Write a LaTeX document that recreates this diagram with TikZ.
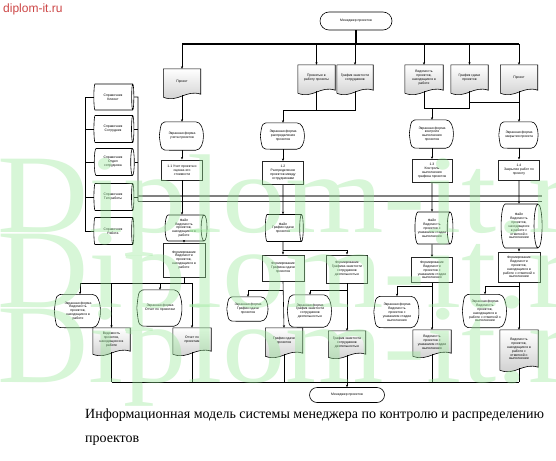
\documentclass[tikz,border=0pt]{standalone}
\usepackage{fontspec}
\setmainfont{Liberation Serif}
\setsansfont{Liberation Sans}
\usetikzlibrary{shapes.geometric,arrows.meta,calc}
\definecolor{wmgreen}{RGB}{150,232,150}
\definecolor{wmred}{RGB}{205,70,70}
\newcommand{\nf}{\fontsize{3.4}{3.9}\selectfont\sffamily}
\pgfdeclarelayer{back}
\pgfdeclarelayer{bg}
\pgfdeclarelayer{wmark}
\pgfsetlayers{back,bg,main,wmark}
\tikzset{
 lbl/.style={font=\nf, align=center, inner sep=0.5pt},
 term/.style={lbl, draw, fill=white, line width=0.6pt},
 proc/.style={lbl, draw=black!85, line width=0.9pt, fill=white},
 dbs/.style={lbl, draw, cylinder, shape aspect=0.3, fill=white, line width=0.6pt},
 docfill/.style={draw, line width=0.6pt, top color=white, bottom color=black!20},
 dispfill/.style={draw, line width=0.6pt, fill=white},
 wire/.style={line width=0.6pt},
 arr/.style={wire, -{Stealth[length=2.6pt,width=2.2pt]}},
 bus/.style={line width=1.1pt},
 wmtext/.style={anchor=base west, inner sep=0pt, text=wmgreen, text opacity=0.38, xscale=1.13, font=\fontsize{112}{112}\selectfont},
}
\newcommand{\docn}[6]{%
 \node[lbl, minimum width=#4pt, minimum height=#5pt] (#1) at (#2,#3) {#6};
 \begin{pgfonlayer}{bg}
 \path[docfill] (#1.north west) -- (#1.north east) -- ($(#1.south east)+(0,-1)$)
   .. controls ($(#1.south east)+(-0.4*#4,-6)$) and ($(#1.south west)+(0.4*#4,8)$) .. ($(#1.south west)+(0,2)$) -- cycle;
 \end{pgfonlayer}}
\newcommand{\dispn}[6]{%
 \node[lbl, minimum width=#4pt, minimum height=#5pt] (#1) at (#2,#3) {#6};
 \begin{pgfonlayer}{bg}
 \path[dispfill] ($(#1.north west)+(0.22*#4,0)$) -- ($(#1.north east)+(-0.2*#4,0)$)
   .. controls ($(#1.north east)+(0.03*#4,0)$) and ($(#1.south east)+(0.03*#4,0)$) .. ($(#1.south east)+(-0.2*#4,0)$)
   -- ($(#1.south west)+(0.22*#4,0)$)
   .. controls ($(#1.south west)+(0.04*#4,0)$) .. (#1.west)
   .. controls ($(#1.north west)+(0.04*#4,0)$) .. ($(#1.north west)+(0.22*#4,0)$) -- cycle;
 \end{pgfonlayer}}
\begin{document}
\begin{tikzpicture}[x=1pt,y=-1pt]
\begin{pgfonlayer}{back}
\fill[white] (0,0) rectangle (556,460);
\end{pgfonlayer}
\useasboundingbox (0,0) rectangle (556,460);

% ---- terminators
\node[term, minimum width=72pt, minimum height=18pt, rounded corners=9pt] (t1) at (356,21) {Менеджер проектов};
\node[term, minimum width=75pt, minimum height=15pt, rounded corners=7.5pt] (t2) at (347,395) {Менеджер проектов};

% ---- top documents
\docn{d1}{182}{82}{37}{26}{Проект}
\docn{d2}{316.5}{78}{37}{26}{Принятые в\\работу проекты}
\docn{d3}{355}{78}{36}{26}{График занятости\\сотрудников}
\docn{d4}{424}{78}{38}{26}{Ведомость\\проектов,\\находящихся в\\работе}
\docn{d5}{469.5}{78}{37}{26}{График сдачи\\проектов}
\docn{d6}{519}{78}{37}{26}{Проект}

% ---- screen forms (upper)
\dispn{disp1}{182}{136}{45}{28}{Экранная форма\\учета проектов}
\dispn{disp2}{283}{136}{45}{26}{Экранная форма\\распределения\\проектов}
\dispn{disp3}{432}{134}{45}{28}{Экранная форма\\контроля\\выполнения\\проектов}
\dispn{disp4}{519}{135}{40}{26}{Экранная форма\\закрытия проекта}

% ---- processes
\node[proc, minimum width=41pt, minimum height=20pt] (p1) at (182,170) {1.1 Учет проекта и\\оценка его\\стоимости};
\node[proc, minimum width=41pt, minimum height=23pt] (p2) at (283,173) {1.2\\Распределение\\проектов между\\сотрудниками};
\node[proc, minimum width=40pt, minimum height=23pt] (p3) at (432,171) {1.3\\Контроль\\выполнения\\графика проектов};
\node[proc, minimum width=41pt, minimum height=20pt] (p4) at (519,170) {1.4\\Закрытие работ по\\проекту};

% ---- reference books (cylinder: minimum height = length along axis)
\node[dbs, minimum height=40pt, minimum width=26pt] (s1) at (113,97) {Справочник\\Клиент};
\node[dbs, minimum height=40pt, minimum width=27pt] (s2) at (113,129) {Справочник\\Сотрудник};
\node[dbs, minimum height=40pt, minimum width=27pt] (s3) at (113,162) {Справочник\\Отдел\\сотрудника};
\node[dbs, minimum height=40pt, minimum width=27pt] (s4) at (113,197) {Справочник\\Тип работы};
\node[dbs, minimum height=40pt, minimum width=27pt] (s5) at (113,231) {Справочник\\Работа};

% ---- files
\node[dbs, minimum height=42pt, minimum width=26pt] (f1) at (184,228) {Файл\\Ведомость\\проектов,\\находящихся в\\работе};
\node[dbs, minimum height=38pt, minimum width=27pt] (f2) at (283,228) {Файл\\График сдачи\\проектов};
\node[dbs, minimum height=38pt, minimum width=32pt] (f3) at (432,228) {Файл\\Ведомость\\проектов с\\указанием стадии\\выполнения};
\node[dbs, minimum height=41pt, minimum width=44pt] (f4) at (519,226) {Файл\\Ведомость\\проектов,\\находящихся\\в работе с\\отметкой о\\выполнении};

% ---- forming processes
\node[proc, minimum width=42pt, minimum height=34pt] (q1) at (184,260) {Формирование\\Ведомости\\проектов,\\находящихся в\\работе};
\node[proc, minimum width=42pt, minimum height=26pt] (q2a) at (283,268) {Формирование\\Графика сдачи\\проектов};
\node[proc, minimum width=41pt, minimum height=28pt] (q2b) at (347,269) {Формирование\\Графика занятости\\сотрудников\\деятельностью};
\node[proc, minimum width=41pt, minimum height=25pt] (q3) at (432,270) {Формирование\\Ведомости\\проектов с\\указанием стадии\\выполнения};
\node[proc, minimum width=42pt, minimum height=30pt] (q4) at (519,267) {Формирование\\Ведомости\\проектов,\\находящихся в\\работе с отметкой о\\выполнении};

% ---- lower screen forms
\dispn{disp5}{78}{311}{47}{33}{Экранная форма\\Ведомость\\проектов,\\находящихся в\\работе}
\dispn{disp6}{160}{308}{46}{36}{Экранная форма\\Отчет по проектам}
\dispn{disp7}{248}{309}{42}{24}{Экранная форма\\График сдачи\\проектов}
\dispn{disp8}{310}{311}{45}{32}{Экранная форма\\График занятости\\сотрудников\\деятельностью}
\dispn{disp9}{397}{312}{46}{31}{Экранная форма\\Ведомость\\проектов с\\указанием стадии\\выполнения}
\dispn{disp10}{485}{311}{45}{33}{Экранная форма\\Ведомость\\проектов,\\находящихся в\\работе с отметкой о\\выполнении}

% ---- lower documents
\docn{d7}{111.5}{340}{37}{24}{Ведомость\\проектов,\\находящихся в\\работе}
\docn{d8}{192}{340}{38}{24}{Отчет по\\проектам}
\docn{d9}{284}{341}{37}{26}{График сдачи\\проектов}
\docn{d10}{347}{343}{37}{24}{График занятости\\сотрудников\\деятельностью}
\docn{d11}{432}{342}{38}{24}{Ведомость\\проектов с\\указанием стадии\\выполнения}
\docn{d12}{519}{349}{38}{38}{Ведомость\\проектов,\\находящихся в\\работе с\\отметкой о\\выполнении}

% ---- coordinates
\coordinate (bl) at (182,44);
\coordinate (br) at (519,44);
\coordinate (j2) at (283,110);
\coordinate (j3) at (432,108);
\coordinate (j4) at (519,102);
\coordinate (hl1) at (138,196);
\coordinate (hr1) at (542,196);
\coordinate (hl2) at (138,201);
\coordinate (hr2) at (542,201);
\coordinate (lbt) at (85,97);
\coordinate (lbb) at (85,231);
\coordinate (rbt) at (138,97);
\coordinate (b1l) at (80,283);
\coordinate (b1r) at (192,283);
\coordinate (sp2) at (283,250);
\coordinate (c2a) at (283,290);
\coordinate (c2b) at (347,290);
\coordinate (c3) at (432,286);
\coordinate (c4) at (519,286);
\coordinate (bbl) at (111.5,382);
\coordinate (bbr) at (519,382);

% ---- top connectors
\draw[bus] (t1.south) -- (t1.south |- bl);
\draw[bus] (bl) -- (br);
\draw[arr] (bl) -- (d1.north);
\draw[arr] (d2.north |- bl) -- (d2.north);
\draw[arr] (d3.north |- bl) -- (d3.north);
\draw[arr] (d4.north |- bl) -- (d4.north);
\draw[arr] (d5.north |- bl) -- (d5.north);
\draw[arr] (br) -- (d6.north);

\draw[arr] (d1.south) -- (disp1.north);
\draw[wire] (d2.south) -- (d2.south |- j2);
\draw[wire] (d3.south) -- (d3.south |- j2) -- (j2);
\draw[arr] (j2) -- (disp2.north);
\draw[wire] (d4.south) -- (d4.south |- j3) -- (d5.south |- j3) -- (d5.south);
\draw[arr] (j3) -- (disp3.north);
\draw[wire] (d5.south |- j4) -- (j4);
\draw[arr] (d6.south) -- (disp4.north);

\draw[arr] (disp1.south) -- (p1.north);
\draw[arr] (disp2.south) -- (p2.north);
\draw[arr] (disp3.south) -- (p3.north);
\draw[arr] (disp4.south) -- (p4.north);

% ---- reference book buses
\draw[wire] (s1.west) -- (lbt) -- (lbb) -- (s5.west);
\draw[wire] (s2.west) -- (s2.west -| lbt);
\draw[wire] (s3.west) -- (s3.west -| lbt);
\draw[wire] (s4.west) -- (s4.west -| lbt);
\draw[wire] (s1.east) -- (rbt) -- (hl2);
\draw[wire] (s2.east) -- (s2.east -| rbt);
\draw[wire] (s3.east) -- (s3.east -| rbt);
\draw[wire] (s4.east) -- (s4.east -| rbt);
\draw[line width=1.2pt, black!50] (hl1) -- (hr1);
\draw[line width=0.8pt, black!75] (hl2) -- (hr2);

% ---- process to files
\draw[arr] (p1.south) -- (p1.south |- f1.north);
\draw[arr] (p2.south) -- (f2.north);
\draw[arr] (p3.south) -- (f3.north);
\draw[arr] (p4.south) -- (f4.north);
\draw[arr] (f1.south) -- (q1.north);
\draw[arr] (f2.south) -- (q2a.north);
\draw[arr] (sp2) -| (q2b.north);
\draw[arr] (f3.south) -- (q3.north);
\draw[arr] (f4.south) -- (q4.north);

% ---- column 1 outputs
\draw[wire] (q1.south) -- (q1.south |- b1l);
\draw[wire] (b1l) -- (b1r);
\draw[arr] (b1l) -- (b1l |- disp5.north);
\draw[arr] (d7.north |- b1l) -- (d7.north);
\draw[arr] (disp6.north |- b1l) -- (disp6.north);
\draw[arr] (b1r) -- (d8.north);

% ---- column 2 outputs
\draw[arr] (q2a.south) -- (d9.north);
\draw[arr] (c2a) -| (disp7.north);
\draw[arr] (q2b.south) -- (d10.north);
\draw[arr] (c2b) -| (disp8.north);

% ---- column 3 and 4 outputs
\draw[arr] (q3.south) -- (d11.north);
\draw[arr] (c3) -| (disp9.north);
\draw[arr] (q4.south) -- (d12.north);
\draw[arr] (c4) -| (disp10.north);

% ---- bottom bus
\draw[wire] (bbl) -- (bbr);
\draw[wire] (d7.south) -- (d7.south |- bbl);
\draw[wire] (d8.south) -- (d8.south |- bbl);
\draw[wire] (d9.south) -- (d9.south |- bbl);
\draw[wire] (d11.south) -- (d11.south |- bbl);
\draw[wire] (d12.south) -- (bbr);
\draw[arr] (d10.south) -- (t2.north);

% ---- caption
\node[anchor=base west, inner sep=0pt, font=\fontsize{14}{17}\selectfont] (cap1) at (85,418) {Информационная модель системы менеджера по контролю и распределению};
\node[anchor=base west, inner sep=0pt, font=\fontsize{14}{17}\selectfont] (cap2) at (85,442) {проектов};

% ---- watermark
\begin{pgfonlayer}{wmark}
\node[wmtext] (wm1) at (-3,232) {Diplom-it.ru};
\node[wmtext] (wm2) at (-3,307) {Diplom-it.ru};
\node[wmtext] (wm3) at (-3,382) {Diplom-it.ru};
\node[anchor=base west, inner sep=0pt, text=wmred, font=\sffamily\fontsize{12}{12}\selectfont] (wmtop) at (3,13) {diplom-it.ru};
\end{pgfonlayer}
\end{tikzpicture}
\end{document}
